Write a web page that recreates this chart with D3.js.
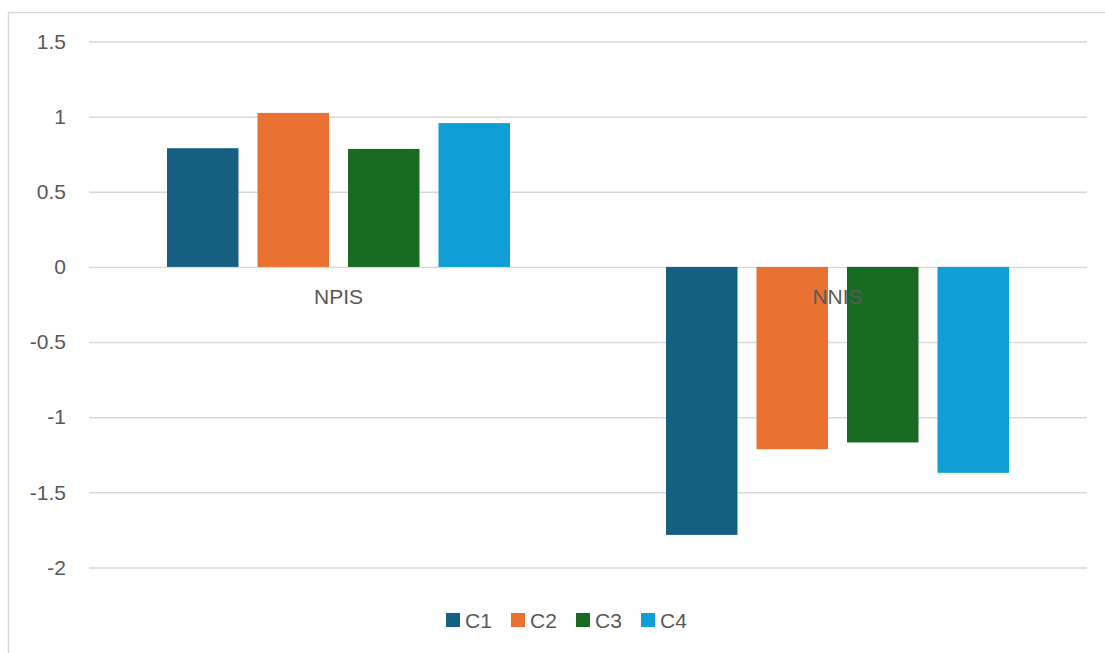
<!DOCTYPE html>
<html>
<head>
<meta charset="utf-8">
<script src="https://cdn.jsdelivr.net/npm/d3@7"></script>
<style>
  body { margin: 0; background: #fff; }
  svg { display: block; font-family: "Liberation Sans", Arial, sans-serif; }
</style>
</head>
<body>
<svg id="chart"></svg>
<script>
let categories = ["NPIS", "NNIS"]
let seriesNames = ["C1", "C2", "C3", "C4"]
let seriesColors = ["#156082", "#e97132", "#196b24", "#0f9ed5"]
let npisValues = [0.79, 1.025, 0.785, 0.957]
let nnisValues = [-1.783, -1.213, -1.168, -1.37]
let yTicks = [-2, -1.5, -1, -0.5, 0, 0.5, 1, 1.5]

let width = 1105
let height = 653

let svg = d3.select("#chart")
svg.attr("width", width).attr("height", height)

let rows = categories.map((c, i) => {
  let vals = i === 0 ? npisValues : nnisValues
  return { category: c, values: seriesNames.map((s, j) => ({ series: s, value: vals[j] })) }
})

// chart frame
svg.append("rect")
  .attr("x", 8.5).attr("y", 12.5)
  .attr("width", 1200).attr("height", 1000)
  .attr("fill", "#fff")
  .attr("stroke", "#d9d9d9")
  .attr("stroke-width", 1.5)

let xScale = d3.scaleBand()
  .domain(categories)
  .range([89, 1087])

let innerScale = d3.scaleBand()
  .domain(seriesNames)
  .range([78, xScale.bandwidth() - 78])
  .paddingInner(0.21)

let yScale = d3.scaleLinear()
  .domain([-2, 1.5])
  .range([567.5, 41.5])

let colorScale = d3.scaleOrdinal().domain(seriesNames).range(seriesColors)

// gridlines + tick labels
let yAxis = d3.axisLeft(yScale)
  .tickValues(yTicks)
  .tickSize(-(1087 - 89))
  .tickPadding(23)
  .tickFormat(d => String(d))

let yG = svg.append("g")
  .attr("transform", "translate(89,0)")
  .call(yAxis)
yG.select(".domain").remove()
yG.selectAll(".tick line").attr("stroke", "#d9d9d9").attr("stroke-width", 1.5)
yG.selectAll(".tick text").attr("fill", "#595959").attr("font-size", 21)
  .attr("font-family", "Liberation Sans, Arial, sans-serif")

// bars
let groups = svg.selectAll(".grp")
  .data(rows)
  .enter()
  .append("g")
  .attr("class", "grp")
  .attr("transform", d => "translate(" + xScale(d.category) + ",0)")

groups.selectAll("rect")
  .data(d => d.values)
  .enter()
  .append("rect")
  .attr("x", d => innerScale(d.series))
  .attr("width", innerScale.bandwidth())
  .attr("y", d => yScale(Math.max(0, d.value)))
  .attr("height", d => Math.abs(yScale(d.value) - yScale(0)))
  .attr("fill", d => colorScale(d.series))

// category labels just under the zero line
let xAxis = d3.axisBottom(xScale).tickSize(0).tickPadding(22)
let xG = svg.append("g")
  .attr("transform", "translate(0," + yScale(0) + ")")
  .call(xAxis)
xG.select(".domain").remove()
xG.selectAll(".tick text")
  .attr("fill", "#595959")
  .attr("font-size", 21)
  .attr("font-family", "Liberation Sans, Arial, sans-serif")

// legend
let legend = svg.append("g").attr("transform", "translate(446,613)")
let legendItems = legend.selectAll("g")
  .data(seriesNames)
  .enter()
  .append("g")
  .attr("transform", (d, i) => "translate(" + (i * 65) + ",0)")

legendItems.append("rect")
  .attr("width", 14).attr("height", 14)
  .attr("fill", d => colorScale(d))

legendItems.append("text")
  .attr("x", 19).attr("y", 14.5)
  .attr("fill", "#595959")
  .attr("font-size", 21)
  .text(d => d)
</script>
</body>
</html>
